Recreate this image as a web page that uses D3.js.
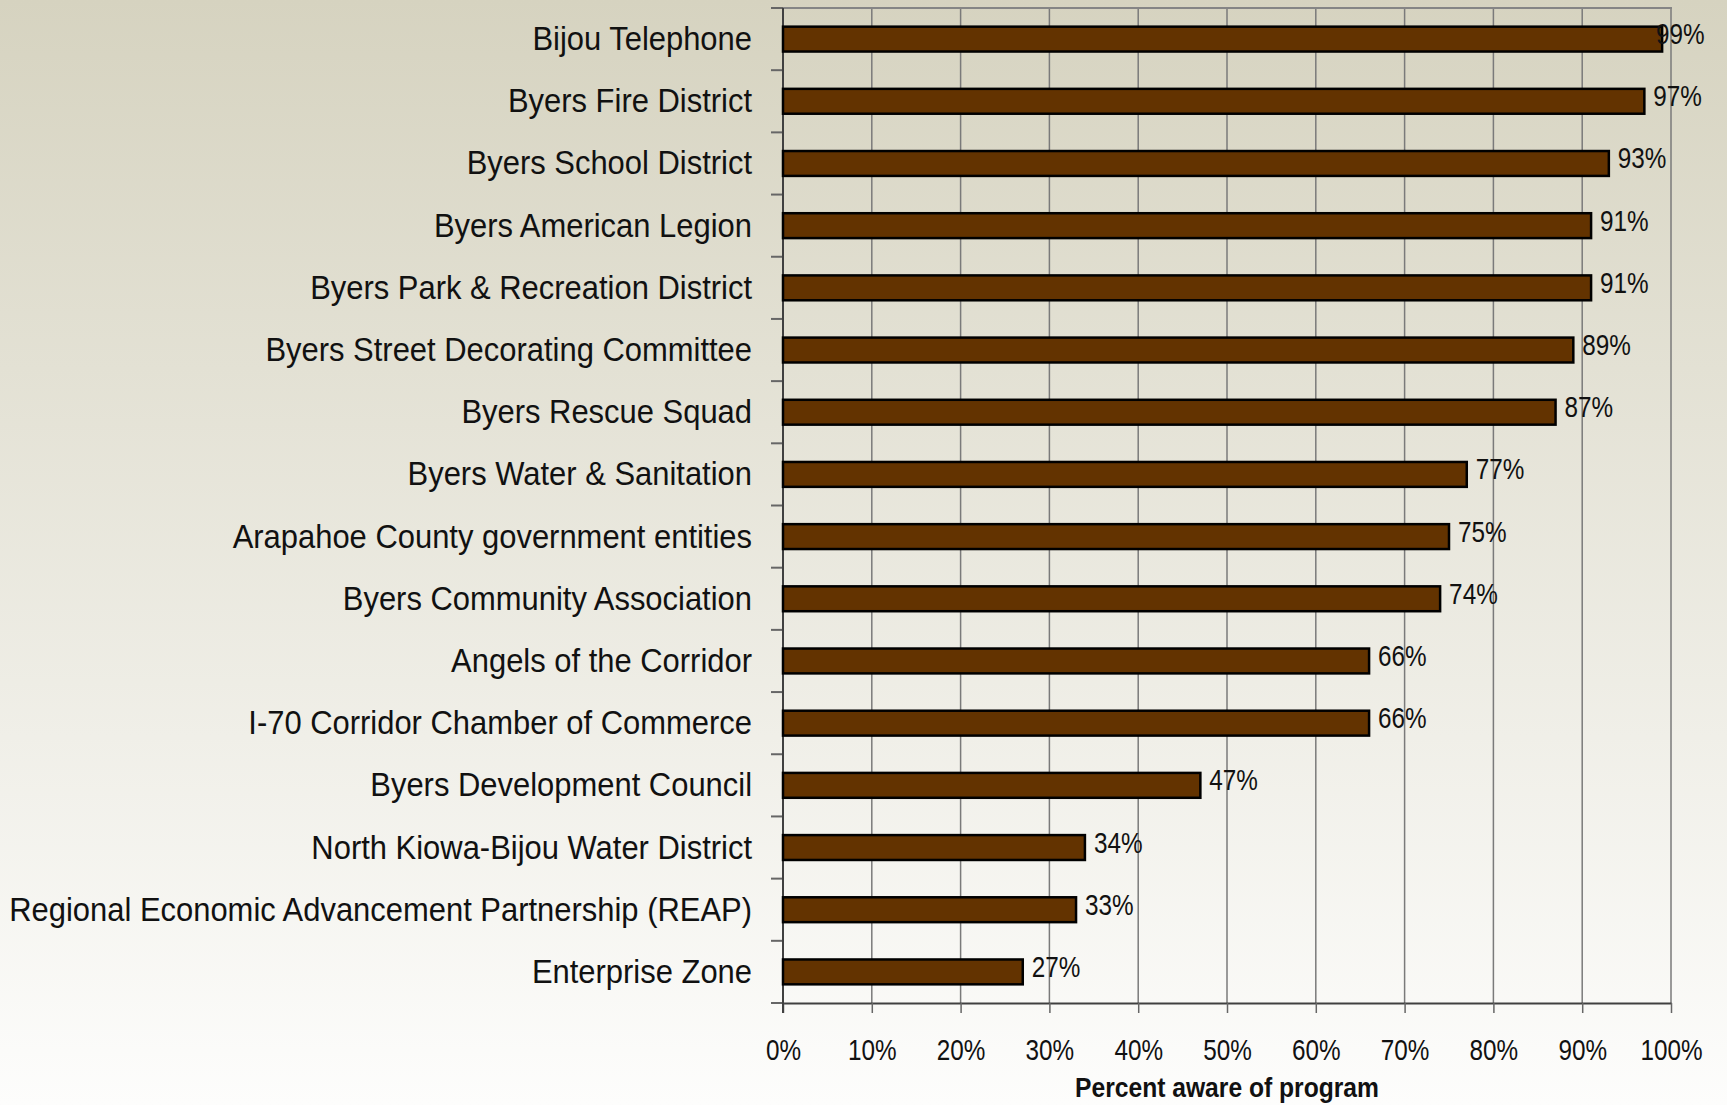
<!DOCTYPE html>
<html>
<head>
<meta charset="utf-8">
<script src="https://cdn.jsdelivr.net/npm/d3@7"></script>
<style>
  html, body { margin: 0; padding: 0; overflow: hidden; }
  svg { display: block; }
  text { font-family: "Liberation Sans", Arial, sans-serif; fill: #111; }
</style>
</head>
<body>
<svg id="chart" width="1727" height="1105"></svg>
<script>
const categories = [
  "Bijou Telephone",
  "Byers Fire District",
  "Byers School District",
  "Byers American Legion",
  "Byers Park & Recreation District",
  "Byers Street Decorating Committee",
  "Byers Rescue Squad",
  "Byers Water & Sanitation",
  "Arapahoe County government entities",
  "Byers Community Association",
  "Angels of the Corridor",
  "I-70 Corridor Chamber of Commerce",
  "Byers Development Council",
  "North Kiowa-Bijou Water District",
  "Regional Economic Advancement Partnership (REAP)",
  "Enterprise Zone"
];
const values = [99, 97, 93, 91, 91, 89, 87, 77, 75, 74, 66, 66, 47, 34, 33, 27];
const xTicks = [0, 10, 20, 30, 40, 50, 60, 70, 80, 90, 100];
const xTitle = "Percent aware of program";

const W = 1727, H = 1105;
const m = { left: 783, right: 1671, top: 8, bottom: 1003 };

const svg = d3.select("#chart");
const defs = svg.append("defs");
const grad = defs.append("linearGradient").attr("id", "bg")
  .attr("x1", 0).attr("y1", 0).attr("x2", 0).attr("y2", 1);
grad.append("stop").attr("offset", "0%").attr("stop-color", "#d6d3c0");
grad.append("stop").attr("offset", "100%").attr("stop-color", "#fdfdfc");
svg.append("rect").attr("width", W).attr("height", H).attr("fill", "url(#bg)");

const x = d3.scaleLinear().domain([0, 100]).range([m.left, m.right]);
const y = d3.scaleBand().domain(categories).range([m.top, m.bottom])
  .paddingInner(0.6).paddingOuter(0.3);

// vertical gridlines
svg.append("g").selectAll("line").data(xTicks.slice(1)).join("line")
  .attr("x1", d => x(d)).attr("x2", d => x(d))
  .attr("y1", m.top).attr("y2", m.bottom)
  .attr("stroke", "#7a7a7a").attr("stroke-width", 1.5);

// top border
svg.append("line").attr("x1", m.left - 12).attr("x2", x(100) + 1)
  .attr("y1", m.top).attr("y2", m.top)
  .attr("stroke", "#858585").attr("stroke-width", 2);

// bottom axis
const xAxis = d3.axisBottom(x).tickValues(xTicks).tickSize(10).tickSizeOuter(0)
  .tickFormat(d => d + "%");
const gx = svg.append("g").attr("transform", `translate(0,${m.bottom})`).call(xAxis);
gx.select(".domain").attr("stroke", "#404040").attr("stroke-width", 2);
gx.selectAll(".tick line").attr("stroke", "#666").attr("stroke-width", 1.5);
gx.selectAll(".tick text").remove();
gx.selectAll(".tick").append("text")
  .attr("text-anchor", "middle")
  .attr("transform", "translate(0,57) scale(0.81,1)")
  .style("font-size", "30px")
  .text(d => d + "%");

// left axis with boundary ticks
const bounds = d3.range(categories.length + 1).map(i => m.top + i * y.step());
svg.append("g").selectAll("line").data(bounds).join("line")
  .attr("x1", m.left - 12).attr("x2", m.left)
  .attr("y1", d => d).attr("y2", d => d)
  .attr("stroke", "#666").attr("stroke-width", 2);
svg.append("line").attr("x1", m.left).attr("x2", m.left)
  .attr("y1", m.top).attr("y2", m.bottom + 10)
  .attr("stroke", "#404040").attr("stroke-width", 2);

// bars
svg.append("g").selectAll("rect").data(values).join("rect")
  .attr("x", x(0))
  .attr("y", (d, i) => y(categories[i]))
  .attr("width", d => x(d) - x(0))
  .attr("height", y.bandwidth())
  .attr("fill", "#633300")
  .attr("stroke", "#000").attr("stroke-width", 2.5);

// value labels
const labelMax = 1656;
svg.append("g").selectAll("text").data(values).join("text")
  .attr("transform", (d, i) =>
    `translate(${Math.min(x(d) + 9, labelMax)},${y(categories[i]) + y.bandwidth() / 2 + 5}) scale(0.81,1)`)
  .style("font-size", "30px")
  .text(d => d + "%");

// category labels
svg.append("g").selectAll("text").data(categories).join("text")
  .attr("text-anchor", "end")
  .attr("transform", d => `translate(752,${y(d) + y.bandwidth() / 2 + 11}) scale(0.91,1)`)
  .style("font-size", "34px")
  .text(d => d);

// axis title
svg.append("text")
  .attr("text-anchor", "middle")
  .attr("transform", `translate(${x(50)},1097) scale(0.88,1)`)
  .style("font-size", "28px").style("font-weight", "bold")
  .text(xTitle);
</script>
</body>
</html>
